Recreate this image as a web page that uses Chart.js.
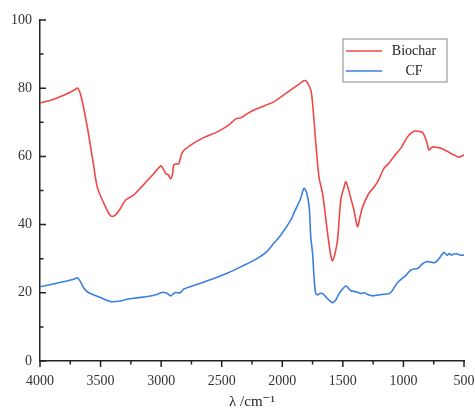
<!DOCTYPE html>
<html>
<head>
<meta charset="utf-8">
<script src="https://cdn.jsdelivr.net/npm/chart.js@4"></script>
<style>
  html, body { margin: 0; padding: 0; background: #fff; }
  #wrap { width: 475px; height: 411px; }
</style>
</head>
<body>
<div id="wrap"><canvas id="irChart"></canvas></div>
<script>
// datos (numero de onda en cm-1, transmitancia %)
const biocharWn = [4000, 3900, 3800, 3720, 3690, 3660, 3610, 3560, 3527, 3470, 3420, 3390, 3350, 3293, 3226, 3150, 3060, 3004, 2985, 2963, 2940, 2921, 2905, 2896, 2870, 2855, 2823, 2756, 2650, 2536, 2450, 2384, 2343, 2290, 2235, 2150, 2070, 1950, 1850, 1822, 1800, 1765, 1750, 1723, 1696, 1668, 1626, 1600, 1585, 1565, 1544, 1517, 1490, 1475, 1455, 1434, 1410, 1379, 1360, 1337, 1285, 1240, 1200, 1161, 1120, 1078, 1020, 965, 912, 870, 841, 810, 789, 770, 759, 720, 690, 640, 582, 540, 500];
const biocharT = [75.7, 76.6, 78.0, 79.4, 80.0, 77.5, 68.7, 58, 51, 46, 42.7, 42.5, 44, 47.2, 48.7, 51.5, 55, 57.2, 56.5, 55, 54.5, 53.4, 55, 57.5, 57.8, 57.8, 61.3, 63.3, 65.5, 67.2, 69, 71, 71.3, 72.5, 73.6, 74.8, 76, 79, 81.5, 82.2, 82.0, 79.5, 75.6, 63.8, 53.6, 49.2, 37.4, 31, 29.4, 31.5, 35.5, 47.2, 51, 52.6, 50.5, 47.7, 44.5, 39.4, 42, 45.2, 49.2, 51.1, 53.5, 56.5, 58, 60, 62.5, 65.8, 67.4, 67.3, 67, 64.5, 61.9, 62.5, 62.8, 62.6, 62.4, 61.5, 60.4, 59.8, 60.4];

const cfWn = [4000, 3900, 3800, 3720, 3693, 3670, 3640, 3610, 3550, 3500, 3450, 3417, 3350, 3279, 3200, 3100, 3030, 3004, 2975, 2949, 2921, 2900, 2880, 2845, 2812, 2700, 2566, 2450, 2343, 2205, 2130, 2070, 2013, 1930, 1903, 1850, 1822, 1800, 1778, 1765, 1750, 1738, 1725, 1709, 1690, 1668, 1640, 1616, 1585, 1560, 1544, 1510, 1475, 1450, 1434, 1392, 1351, 1323, 1290, 1254, 1180, 1117, 1089, 1048, 1000, 977, 938, 880, 850, 812, 770, 745, 717, 663, 640, 620, 608, 580, 553, 530, 500];
const cfT = [21.8, 22.5, 23.3, 24.0, 24.4, 23.5, 21.5, 20.3, 19.3, 18.6, 17.8, 17.4, 17.5, 18.1, 18.5, 19.0, 19.6, 20.0, 20.1, 19.8, 19.1, 19.7, 20.1, 20.0, 21.1, 22.5, 24.2, 25.8, 27.6, 30.1, 32, 34.5, 36.9, 41.3, 43.5, 47.5, 50.6, 49.5, 45.2, 36.5, 31.6, 24.7, 20, 19.4, 19.8, 19.8, 18.8, 17.9, 17.1, 17.8, 18.9, 20.8, 22.0, 21.2, 20.6, 20.3, 19.8, 20.0, 19.4, 19.1, 19.5, 19.8, 20.8, 23.0, 24.5, 25.2, 26.7, 27.2, 28.3, 29.1, 29.0, 28.8, 29.6, 31.8, 31.0, 31.5, 31.1, 31.4, 31.4, 31.0, 31.1];

const seriesNames = ['Biochar', 'CF'];
const xMajorTicks = [4000, 3500, 3000, 2500, 2000, 1500, 1000, 500];
const xMinorTicks = [3750, 3250, 2750, 2250, 1750, 1250, 750];
const yMajorTicks = [0, 20, 40, 60, 80, 100];
const yMinorTicks = [10, 30, 50, 70, 90];
const xTitle = 'λ /cm⁻¹';

const serif = "'Liberation Serif', 'DejaVu Serif', serif";

// ticks: eje y hacia dentro, eje x hacia fuera
const tickPlugin = {
    id: 'tickPlugin',
    afterDraw(chart) {
        const ctx = chart.ctx;
        const xs = chart.scales.x, ys = chart.scales.y;
        const area = chart.chartArea;
        ctx.save();
        ctx.strokeStyle = '#222';
        ctx.lineWidth = 1.5;
        ctx.beginPath();
        yMajorTicks.forEach(v => { const p = ys.getPixelForValue(v); ctx.moveTo(area.left, p); ctx.lineTo(area.left + 6, p); });
        yMinorTicks.forEach(v => { const p = ys.getPixelForValue(v); ctx.moveTo(area.left, p); ctx.lineTo(area.left + 3.5, p); });
        xMajorTicks.forEach(v => { const p = xs.getPixelForValue(v); ctx.moveTo(p, area.bottom); ctx.lineTo(p, area.bottom + 6); });
        xMinorTicks.forEach(v => { const p = xs.getPixelForValue(v); ctx.moveTo(p, area.bottom); ctx.lineTo(p, area.bottom + 3.5); });
        ctx.stroke();
        ctx.restore();
    }
};

// leyenda con marco dentro del area del grafico
const boxLegend = {
    id: 'boxLegend',
    afterDraw(chart) {
        const ctx = chart.ctx;
        const x0 = 343, y0 = 39, w = 104, h = 43;
        ctx.save();
        ctx.fillStyle = '#fff';
        ctx.fillRect(x0, y0, w, h);
        ctx.strokeStyle = '#9a9a9a';
        ctx.lineWidth = 1.2;
        ctx.strokeRect(x0, y0, w, h);
        ctx.font = "14px " + serif;
        ctx.textAlign = 'center';
        ctx.textBaseline = 'middle';
        chart.data.datasets.forEach((ds, i) => {
            const y = y0 + 12 + i * 20;
            ctx.strokeStyle = ds.borderColor;
            ctx.lineWidth = 1.6;
            ctx.beginPath();
            ctx.moveTo(x0 + 3, y);
            ctx.lineTo(x0 + 39, y);
            ctx.stroke();
            ctx.fillStyle = '#222';
            ctx.fillText(ds.label, x0 + 71, y);
        });
        ctx.restore();
    }
};

new Chart(document.getElementById('irChart'), {
    type: 'line',
    data: {
        datasets: [
            {
                label: seriesNames[0],
                data: biocharWn.map((x, i) => ({ x: x, y: biocharT[i] })),
                borderColor: '#ef4747',
                borderWidth: 1.6,
                pointRadius: 0,
                tension: 0.3
            },
            {
                label: seriesNames[1],
                data: cfWn.map((x, i) => ({ x: x, y: cfT[i] })),
                borderColor: '#3b7fe2',
                borderWidth: 1.6,
                pointRadius: 0,
                tension: 0.3
            }
        ]
    },
    options: {
        responsive: true,
        maintainAspectRatio: false,
        animation: false,
        layout: { padding: { top: 20, right: 0, left: 0, bottom: 0 } },
        plugins: { legend: { display: false }, tooltip: { enabled: false } },
        scales: {
            x: {
                type: 'linear',
                reverse: true,
                min: 500,
                max: 4000,
                afterBuildTicks: s => { s.ticks = xMajorTicks.map(v => ({ value: v })); },
                afterFit: s => { s.height = 50; s.paddingRight = 11; s.paddingLeft = 0; },
                grid: { display: false, drawTicks: false },
                border: { display: true, color: '#222', width: 1.5 },
                ticks: { padding: 12, maxRotation: 0, autoSkip: false, color: '#333', font: { family: serif, size: 14 }, callback: v => String(v) },
                title: { display: true, text: xTitle, color: '#222', padding: { top: 0, bottom: 0 }, font: { family: serif, size: 15 } }
            },
            y: {
                min: 0,
                max: 100,
                afterBuildTicks: s => { s.ticks = yMajorTicks.map(v => ({ value: v })); },
                afterFit: s => { s.width = 40; },
                grid: { display: false, drawTicks: false },
                border: { display: true, color: '#222', width: 1.5 },
                ticks: { padding: 8, color: '#333', font: { family: serif, size: 14 } }
            }
        }
    },
    plugins: [tickPlugin, boxLegend]
});
</script>
</body>
</html>
